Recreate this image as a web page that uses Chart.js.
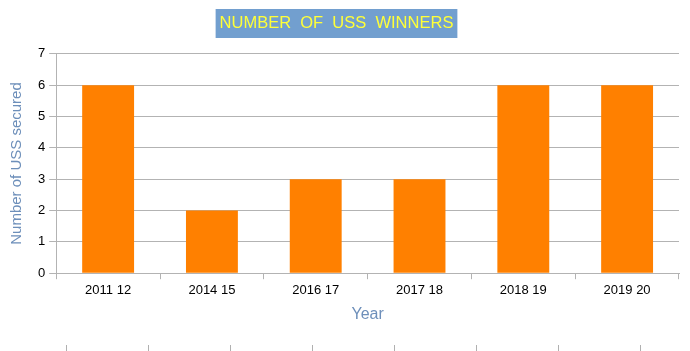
<!DOCTYPE html>
<html>
<head>
<meta charset="utf-8">
<script src="https://cdn.jsdelivr.net/npm/chart.js@4"></script>
<style>
  body { margin: 0; background: #fff; }
  #wrap { width: 690px; height: 351px; position: relative; }
</style>
</head>
<body>
<div id="wrap"><canvas id="myChart"></canvas></div>
<script>
"use strict";

let years = ["2011 12", "2014 15", "2016 17", "2017 18", "2018 19", "2019 20"];
let winners = [6, 2, 3, 3, 6, 6];
let yTicks = [0, 1, 2, 3, 4, 5, 6, 7];

const FONT = "'Liberation Sans', Arial, sans-serif";
const TITLE_SIZE = 16.5;

// blue box behind the title (title sits a bit left of the middle)
const titleBox = {
  id: "titleBox",
  afterLayout(chart) {
    const tb = chart.titleBlock;
    if (!tb) return;
    tb.left -= 7;
    tb.right -= 7;
  },
  beforeDraw(chart) {
    const tb = chart.titleBlock;
    if (!tb) return;
    const c = chart.ctx;
    const text = chart.options.plugins.title.text;
    c.save();
    c.font = TITLE_SIZE + "px " + FONT;
    const w = c.measureText(text).width + 8;
    const cx = (tb.left + tb.right) / 2;
    c.fillStyle = "#729fcf";
    c.fillRect(cx - w / 2, 9, w, 29);
    c.restore();
  },
};

// little marks at the bottom of the page
const pageMarks = {
  id: "pageMarks",
  afterDraw(chart) {
    const c = chart.ctx;
    c.save();
    c.strokeStyle = "#b0b0b0";
    c.lineWidth = 1;
    for (let i = 0; i < 8; i++) {
      const x = Math.round(66 + i * 82) + 0.5;
      c.beginPath();
      c.moveTo(x, 345);
      c.lineTo(x, 351);
      c.stroke();
    }
    c.restore();
  },
};

const ctx = document.getElementById("myChart");

new Chart(ctx, {
  type: "bar",
  data: {
    labels: years,
    datasets: [
      {
        label: "Number of USS secured",
        data: winners,
        backgroundColor: "#ff8000",
        barPercentage: 0.5,
        categoryPercentage: 1,
      },
    ],
  },
  options: {
    responsive: true,
    maintainAspectRatio: false,
    animation: false,
    layout: { padding: { left: 8, right: 11, top: 0, bottom: 27 } },
    plugins: {
      legend: { display: false },
      tooltip: { enabled: false },
      title: {
        display: true,
        text: "NUMBER  OF  USS  WINNERS",
        color: "#ffff38",
        font: { family: FONT, size: TITLE_SIZE, weight: "normal" },
        padding: { top: 14, bottom: 20 },
      },
    },
    scales: {
      x: {
        offset: true,
        grid: {
          offset: true,
          drawOnChartArea: true,
          color: (c) => (c.index === years.length ? "#b3b3b3" : "rgba(0,0,0,0)"),
          tickColor: "#b3b3b3",
          tickLength: 6,
        },
        border: { color: "#b3b3b3" },
        ticks: {
          color: "#000",
          font: { family: FONT, size: 13 },
          padding: 3,
          maxRotation: 0,
        },
        title: {
          display: true,
          text: "Year",
          color: "#6d8fba",
          font: { family: FONT, size: 16 },
          padding: { top: 4, bottom: 0 },
        },
      },
      y: {
        min: 0,
        max: 7,
        afterBuildTicks: (axis) => {
          axis.ticks = yTicks.map((v) => ({ value: v }));
        },
        grid: {
          color: "#b3b3b3",
          tickColor: "#b3b3b3",
          tickLength: 7,
        },
        border: { color: "#b3b3b3" },
        ticks: {
          color: "#000",
          font: { family: FONT, size: 13 },
          padding: 4,
        },
        title: {
          display: true,
          text: "Number of USS secured",
          color: "#6d8fba",
          font: { family: FONT, size: 15 },
          padding: { top: 0, bottom: 8 },
        },
      },
    },
  },
  plugins: [titleBox, pageMarks],
});
</script>
</body>
</html>
